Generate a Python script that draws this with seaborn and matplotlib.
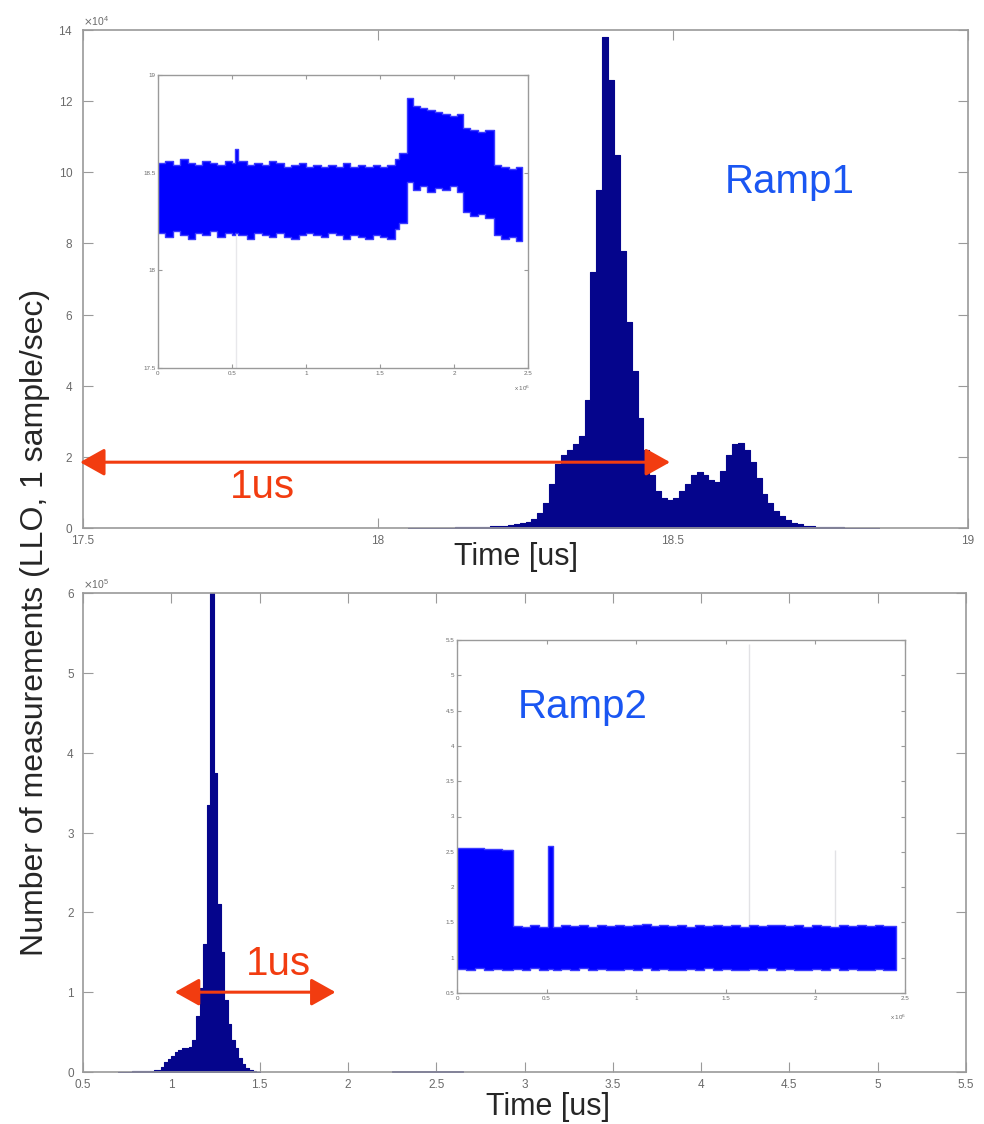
import numpy as np
import pandas as pd
import matplotlib
matplotlib.use("Agg")
import matplotlib.pyplot as plt
from matplotlib.ticker import FuncFormatter
import seaborn as sns

sns.set_style("white")
plt.rcParams['font.family'] = ['Liberation Sans', 'DejaVu Sans']

# ---------------- data ----------------
# Ramp1 histogram (bin width 0.01 us, starting 18.05 us), counts in units of 1e4
ramp1_start, ramp1_width = 18.05, 0.01
ramp1_counts_e4 = [0.004, 0.005, 0.006, 0.007, 0.008, 0.01, 0.012, 0.014, 0.016, 0.02,
                   0.025, 0.03, 0.035, 0.04, 0.05, 0.06, 0.07, 0.09, 0.11, 0.14,
                   0.18, 0.25, 0.42, 0.7, 1.25, 1.8, 2.05, 2.2, 2.35, 2.6,
                   3.6, 7.2, 9.5, 13.8, 12.6, 10.5, 7.8, 5.8, 4.4, 3.1,
                   2.2, 1.5, 1.05, 0.85, 0.78, 0.85, 1.05, 1.25, 1.5, 1.58,
                   1.5, 1.35, 1.3, 1.6, 2.05, 2.35, 2.4, 2.2, 1.85, 1.4,
                   0.95, 0.7, 0.48, 0.33, 0.22, 0.15, 0.1, 0.07, 0.05, 0.04,
                   0.03, 0.025, 0.02, 0.016, 0.013, 0.01, 0.008, 0.006, 0.005, 0.004]

# Ramp2 histogram (bin width 0.02 us, starting 0.70 us), counts in units of 1e5
ramp2_start, ramp2_width = 0.70, 0.02
ramp2_counts_e5 = [0.005, 0.005, 0.005, 0.006, 0.007, 0.008, 0.009, 0.01, 0.012, 0.015,
                   0.02, 0.03, 0.06, 0.12, 0.16, 0.2, 0.25, 0.28, 0.3, 0.3,
                   0.31, 0.4, 0.7, 1.05, 1.6, 3.35, 6.0, 3.75, 2.1, 1.5,
                   0.9, 0.6, 0.4, 0.3, 0.17, 0.1, 0.05, 0.02, 0.01, 0.005]
ramp2_tail_edges = [2.25, 2.35, 2.45, 2.55, 2.65]
ramp2_tail_e5 = [0.01, 0.012, 0.012, 0.01]

# Inset 1: time-series envelope (sample index in 1e6 -> time in us)
ins1_edges = [0.00, 0.05, 0.10, 0.15, 0.20, 0.25, 0.30, 0.35, 0.40, 0.45, 0.50, 0.52, 0.54,
              0.60, 0.65, 0.70, 0.75, 0.80, 0.85, 0.90, 0.95, 1.00, 1.05, 1.10, 1.15, 1.20,
              1.25, 1.30, 1.35, 1.40, 1.45, 1.50, 1.55, 1.60, 1.63, 1.68, 1.72, 1.77, 1.82,
              1.87, 1.92, 1.97, 2.02, 2.06, 2.11, 2.16, 2.21, 2.27, 2.32, 2.37, 2.42, 2.46]
ins1_upper = [18.55, 18.56, 18.54, 18.57, 18.55, 18.54, 18.56, 18.55, 18.54, 18.56, 18.55,
              18.62, 18.56, 18.54, 18.55, 18.54, 18.56, 18.55, 18.53, 18.54, 18.55, 18.53,
              18.54, 18.53, 18.54, 18.53, 18.55, 18.53, 18.54, 18.53, 18.54, 18.53, 18.54,
              18.57, 18.60, 18.88, 18.84, 18.83, 18.82, 18.81, 18.80, 18.79, 18.80, 18.73,
              18.72, 18.71, 18.72, 18.54, 18.53, 18.52, 18.53]
ins1_lower = [18.19, 18.17, 18.20, 18.18, 18.16, 18.19, 18.18, 18.20, 18.17, 18.19, 18.18,
              18.19, 18.18, 18.16, 18.19, 18.18, 18.17, 18.19, 18.17, 18.16, 18.18, 18.19,
              18.18, 18.17, 18.19, 18.18, 18.16, 18.18, 18.17, 18.16, 18.18, 18.17, 18.16,
              18.21, 18.24, 18.45, 18.41, 18.43, 18.40, 18.42, 18.41, 18.43, 18.40, 18.30,
              18.28, 18.29, 18.27, 18.18, 18.16, 18.17, 18.15]
ins1_glitch_x = [0.53]
ins1_glitch_lo = [17.5]
ins1_glitch_hi = [18.19]

# Inset 2
ins2_edges = [0.00, 0.05, 0.10, 0.15, 0.20, 0.25, 0.31, 0.36, 0.41, 0.46, 0.51, 0.535, 0.58,
              0.63, 0.68, 0.73, 0.78, 0.83, 0.88, 0.93, 0.98, 1.03, 1.08, 1.13, 1.18, 1.23,
              1.28, 1.33, 1.38, 1.43, 1.48, 1.53, 1.58, 1.63, 1.68, 1.73, 1.78, 1.83, 1.88,
              1.93, 1.98, 2.03, 2.08, 2.13, 2.18, 2.23, 2.28, 2.33, 2.38, 2.45]
ins2_upper = [2.55, 2.56, 2.55, 2.54, 2.54, 2.53, 1.45, 1.43, 1.46, 1.44, 2.58, 1.44, 1.46,
              1.45, 1.47, 1.44, 1.46, 1.45, 1.47, 1.45, 1.46, 1.48, 1.45, 1.46, 1.45, 1.47,
              1.44, 1.46, 1.45, 1.47, 1.45, 1.46, 1.44, 1.47, 1.45, 1.46, 1.47, 1.45, 1.46,
              1.44, 1.46, 1.45, 1.44, 1.46, 1.45, 1.46, 1.45, 1.46, 1.45]
ins2_lower = [0.84, 0.82, 0.85, 0.83, 0.84, 0.82, 0.84, 0.82, 0.85, 0.83, 0.84, 0.82, 0.84,
              0.83, 0.85, 0.82, 0.84, 0.83, 0.82, 0.84, 0.83, 0.85, 0.82, 0.84, 0.83, 0.82,
              0.84, 0.83, 0.85, 0.82, 0.84, 0.83, 0.82, 0.84, 0.83, 0.85, 0.82, 0.84, 0.83,
              0.82, 0.84, 0.83, 0.85, 0.82, 0.84, 0.83, 0.82, 0.84, 0.83]
ins2_glitch_x = [1.63, 2.11]
ins2_glitch_lo = [1.45, 1.45]
ins2_glitch_hi = [5.45, 2.52]

top_xticks = [17.5, 18, 18.5, 19]
top_yticks_e4 = [0, 2, 4, 6, 8, 10, 12, 14]
bot_xticks = [0.5, 1, 1.5, 2, 2.5, 3, 3.5, 4, 4.5, 5, 5.5]
bot_yticks_e5 = [0, 1, 2, 3, 4, 5, 6]
ins1_yticks = [17.5, 18, 18.5, 19]
ins_xticks_e6 = [0, 0.5, 1, 1.5, 2, 2.5]
ins2_yticks = [0.5, 1, 1.5, 2, 2.5, 3, 3.5, 4, 4.5, 5, 5.5]

# ---------------- figure ----------------
W, H = 984, 1124
fig = plt.figure(figsize=(W / 100, H / 100), dpi=100)


def box(x0, y0, x1, y1):
    return [x0 / W, 1 - y1 / H, (x1 - x0) / W, (y1 - y0) / H]


ax1 = fig.add_axes(box(83, 30, 968, 528))
ax2 = fig.add_axes(box(83, 593, 966, 1072))
in1 = fig.add_axes(box(158, 75, 528, 368))
in2 = fig.add_axes(box(457, 640, 905, 993))

NAVY = "#05058c"
BLUE = "#0000ff"
GRID = "#9a9a9a"
LBL = "#6a6a6a"


def matlab_style(ax, fs, length, lw=1.2, pad=3):
    for s in ax.spines.values():
        s.set_color(GRID)
        s.set_linewidth(lw)
    ax.tick_params(direction='in', top=True, right=True, bottom=True, left=True,
                   length=length, width=0.8, color=GRID, labelsize=fs,
                   labelcolor=LBL, pad=pad)
    ax.set_xlabel("")
    ax.set_ylabel("")


def hist(ax, start, width, counts, scale, lw=0.8):
    counts = list(np.asarray(counts, dtype=float) * scale)
    edges = [round(start + width * i, 4) for i in range(len(counts) + 1)]
    df = pd.DataFrame({"t": [(edges[i] + edges[i + 1]) / 2 for i in range(len(counts))],
                       "n": counts})
    sns.histplot(data=df, x="t", weights="n", bins=edges, ax=ax, element="step",
                 fill=True, color=NAVY, alpha=1, linewidth=lw, edgecolor=NAVY)


# --- Ramp1 histogram
hist(ax1, ramp1_start, ramp1_width, ramp1_counts_e4, 1e4)
ax1.set_xlim(17.5, 19)
ax1.set_ylim(0, 14e4)
ax1.set_xticks(top_xticks)
ax1.set_xticklabels([f"{v:g}" for v in top_xticks])
ax1.set_yticks(np.array(top_yticks_e4) * 1e4)
ax1.ticklabel_format(axis='y', style='sci', scilimits=(4, 4), useMathText=True)
matlab_style(ax1, 8.5, 7)
ax1.tick_params(axis='x', pad=5)
ax1.tick_params(axis='y', pad=7)
ax1.yaxis.get_offset_text().set_fontsize(7.5)
ax1.yaxis.get_offset_text().set_color(LBL)

# --- Ramp2 histogram
hist(ax2, ramp2_start, ramp2_width, ramp2_counts_e5, 1e5)
tail_w = ramp2_tail_edges[1] - ramp2_tail_edges[0]
hist(ax2, ramp2_tail_edges[0], tail_w, ramp2_tail_e5, 1e5, lw=0.6)
ax2.set_xlim(0.5, 5.5)
ax2.set_ylim(0, 6e5)
ax2.set_xticks(bot_xticks)
ax2.set_xticklabels([f"{v:g}" for v in bot_xticks])
ax2.set_yticks(np.array(bot_yticks_e5) * 1e5)
ax2.ticklabel_format(axis='y', style='sci', scilimits=(5, 5), useMathText=True)
matlab_style(ax2, 8.5, 7)
ax2.tick_params(axis='x', pad=5)
ax2.tick_params(axis='y', pad=6)
ax2.yaxis.get_offset_text().set_fontsize(7.5)
ax2.yaxis.get_offset_text().set_color(LBL)


def band(ax, edges, upper, lower):
    x = np.array(edges) * 1e6
    up = np.append(upper, upper[-1])
    lo = np.append(lower, lower[-1])
    ax.fill_between(x, lo, up, step='post', color=BLUE, linewidth=1.0,
                    edgecolor="#3a3aff")


def inset_style(ax, yticks, ylim):
    ax.set_xlim(0, 2.5e6)
    ax.set_ylim(*ylim)
    ax.set_yticks(yticks)
    ax.set_yticklabels([f"{v:g}" for v in yticks])
    ax.set_xticks(np.array(ins_xticks_e6) * 1e6)
    ax.xaxis.set_major_formatter(FuncFormatter(lambda v, p: f"{v / 1e6:g}"))
    matlab_style(ax, 4.5, 3, lw=1.0, pad=2)
    ax.text(0.985, -0.055, r"x 10$^6$", transform=ax.transAxes, fontsize=4.5,
            color=LBL, ha="center", va="top")


# --- inset 1
band(in1, ins1_edges, ins1_upper, ins1_lower)
for gx, lo, hi in zip(ins1_glitch_x, ins1_glitch_lo, ins1_glitch_hi):
    sns.lineplot(x=[gx * 1e6, gx * 1e6], y=[lo, hi], ax=in1, color="#8c8c9c", linewidth=0.8)
inset_style(in1, ins1_yticks, (17.5, 19))

# --- inset 2
band(in2, ins2_edges, ins2_upper, ins2_lower)
for gx, lo, hi in zip(ins2_glitch_x, ins2_glitch_lo, ins2_glitch_hi):
    sns.lineplot(x=[gx * 1e6, gx * 1e6], y=[lo, hi], ax=in2, color="#6e6e80", linewidth=1.0)
inset_style(in2, ins2_yticks, (0.5, 5.5))

# --- arrows
RED = "#f23c10"
astyle = "<|-|>,head_length=0.75,head_width=0.42"
ax1.annotate("", xy=(17.495, 1.85e4), xytext=(18.495, 1.85e4), annotation_clip=False,
             arrowprops=dict(arrowstyle=astyle, color=RED, lw=2.2,
                             mutation_scale=20, shrinkA=0, shrinkB=0))
ax2.annotate("", xy=(1.02, 1.0e5), xytext=(1.93, 1.0e5), annotation_clip=False,
             arrowprops=dict(arrowstyle=astyle, color=RED, lw=2.2,
                             mutation_scale=20, shrinkA=0, shrinkB=0))

# --- texts
TXTBLUE = "#1a56f2"
fig.text(790 / W, 1 - 182 / H, "Ramp1", color=TXTBLUE, fontsize=29, ha="center", va="center")
fig.text(583 / W, 1 - 707 / H, "Ramp2", color=TXTBLUE, fontsize=29, ha="center", va="center")
fig.text(262 / W, 1 - 487 / H, "1us", color=RED, fontsize=29, ha="center", va="center")
fig.text(278 / W, 1 - 964 / H, "1us", color=RED, fontsize=29, ha="center", va="center")

fig.text(516 / W, 1 - 557 / H, "Time [us]", fontsize=22, ha="center", va="center")
fig.text(548 / W, 1 - 1107 / H, "Time [us]", fontsize=22, ha="center", va="center")
fig.text(35 / W, 1 - 622 / H, "Number of measurements (LLO, 1 sample/sec)", fontsize=23,
         rotation=90, ha="center", va="center")

fig.savefig("out.png", dpi=100)
